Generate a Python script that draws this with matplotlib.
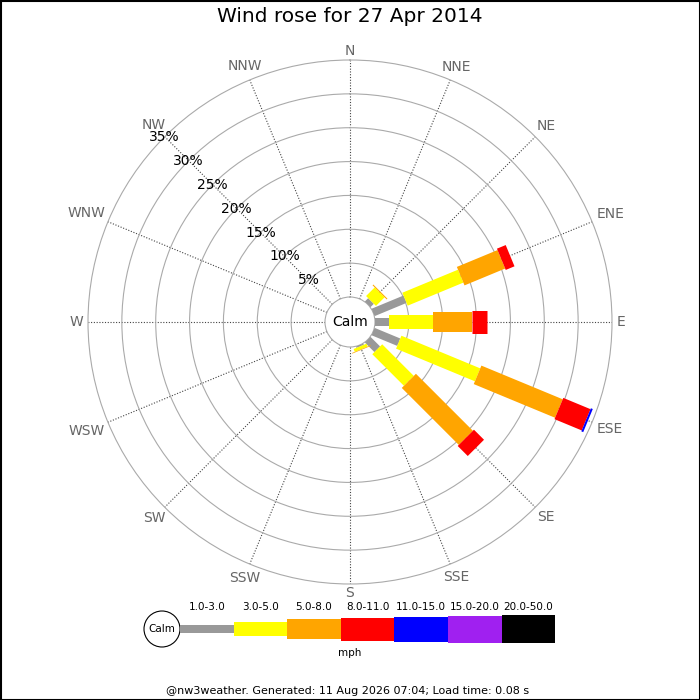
import numpy as np
import matplotlib
matplotlib.use("Agg")
import matplotlib.pyplot as plt
from matplotlib.patches import Rectangle, Circle

# Dados do gráfico (percentagem do tempo por direção e faixa de velocidade)
direcoes = ["N", "NNE", "NE", "ENE", "E", "ESE", "SE", "SSE",
            "S", "SSW", "SW", "WSW", "W", "WNW", "NW", "NNW"]
faixas = ["1.0-3.0", "3.0-5.0", "5.0-8.0", "8.0-11.0", "11.0-15.0", "15.0-20.0", "20.0-50.0"]
cores = ["#999999", "#ffff00", "#ffa500", "#ff0000", "#0000ff", "#a020f0", "#000000"]

v_1_3   = [0, 0, 0.7, 5.1, 2.0, 4.1, 2.0, 0.2, 0, 0, 0, 0, 0, 0, 0, 0]
v_3_5   = [0, 0, 1.8, 8.9, 6.5, 12.6, 6.6, 0.45, 0, 0, 0, 0, 0, 0, 0, 0]
v_5_8   = [0, 0, 0.15, 6.5, 5.8, 13.0, 11.9, 0.1, 0, 0, 0, 0, 0, 0, 0, 0]
v_8_11  = [0, 0, 0, 1.4, 2.2, 4.35, 2.1, 0, 0, 0, 0, 0, 0, 0, 0, 0]
v_11_15 = [0, 0, 0, 0, 0, 0.3, 0, 0, 0, 0, 0, 0, 0, 0, 0, 0]
v_15_20 = [0] * 16
v_20_50 = [0] * 16

aneis = [5, 10, 15, 20, 25, 30, 35]

dados = np.array([v_1_3, v_3_5, v_5_8, v_8_11, v_11_15, v_15_20, v_20_50])
larg_px = [8, 14, 20, 23, 25, 27, 28]  # largura das barras em pixels
px = 72 / 100  # pontos por pixel

fig = plt.figure(figsize=(7, 7), dpi=100)

# Eixo polar
R = 262
ax = fig.add_axes([(350 - R) / 700, (378 - R) / 700, 2 * R / 700, 2 * R / 700], projection="polar")
ax.set_theta_zero_location("N")
ax.set_theta_direction(-1)
rmax = 35
furo = 25 / R
ax.set_rlim(0, rmax)
ax.set_rorigin(-furo * rmax / (1 - furo))

theta = np.deg2rad(np.arange(16) * 22.5)
ax.set_xticks(theta)
ax.set_xticklabels([])
ax.set_yticks(aneis[:-1])
ax.set_yticklabels([])
ax.xaxis.grid(True, color="#444444", linestyle=(0, (1, 1.5)), linewidth=0.8)
ax.yaxis.grid(True, color="#aaaaaa", linestyle="-", linewidth=0.8)
ax.spines["polar"].set_color("#aaaaaa")
ax.spines["polar"].set_linewidth(0.8)
ax.spines["inner"].set_color("#aaaaaa")
ax.spines["inner"].set_linewidth(0.8)
ax.tick_params(length=0)

# Barras empilhadas
for i, th in enumerate(theta):
    base = 0
    for k in range(len(faixas)):
        v = dados[k, i]
        if v > 0:
            ax.plot([th, th], [base, base + v], color=cores[k], lw=larg_px[k] * px,
                    solid_capstyle="butt", zorder=3)
        base += v

# Rótulos das direções: centro do texto afastado do anel externo conforme o tamanho
renderer = fig.canvas.get_renderer()
for th, nome in zip(theta, direcoes):
    s, c = np.sin(th), np.cos(th)
    t = ax.annotate(nome, (th, rmax), xytext=(0, 0), textcoords="offset pixels",
                    ha="center", va="center", fontsize=10, color="#666666",
                    annotation_clip=False)
    bb = t.get_window_extent(renderer)
    d = bb.width / 2 * abs(s) + (bb.height / 2 - 3) * abs(c) + 5
    t.xyann = (d * s + 2 * abs(s * c), d * c)

# Rótulos de percentagem
for r in aneis:
    ax.text(np.deg2rad(315), r, f"{r}%", ha="center", va="center", fontsize=10,
            color="black", zorder=4)

# Camada de texto e legenda em pixels
ov = fig.add_axes([0, 0, 1, 1])
ov.set_xlim(0, 700)
ov.set_ylim(700, 0)
ov.axis("off")
ov.patch.set_alpha(0)

ov.text(350, 322, "Calm", ha="center", va="center", fontsize=10, color="black")
ov.text(350, 17, "Wind rose for 27 Apr 2014", ha="center", va="center", fontsize=14.5)

x0, w, yc = 180, 53.6, 629
ov.add_patch(Circle((162, yc), 18, facecolor="white", edgecolor="black", lw=0.8))
ov.text(162, yc, "Calm", ha="center", va="center", fontsize=7.5)
for k, (lab, cor) in enumerate(zip(faixas, cores)):
    h = larg_px[k]
    ov.add_patch(Rectangle((x0 + k * w, yc - h / 2), w, h, facecolor=cor, edgecolor="none"))
    ov.text(x0 + k * w + w / 2, 606.5, lab, ha="center", va="center", fontsize=7.5)
ov.text(350, 653, "mph", ha="center", va="center", fontsize=7.5)
ov.text(348, 691, "@nw3weather. Generated: 11 Aug 2026 07:04; Load time: 0.08 s",
        ha="center", va="center", fontsize=8)

# Borda da imagem
ov.add_patch(Rectangle((0.5, 0.5), 699, 699, facecolor="none", edgecolor="black", lw=1.5))

fig.savefig("out.png", dpi=100)
